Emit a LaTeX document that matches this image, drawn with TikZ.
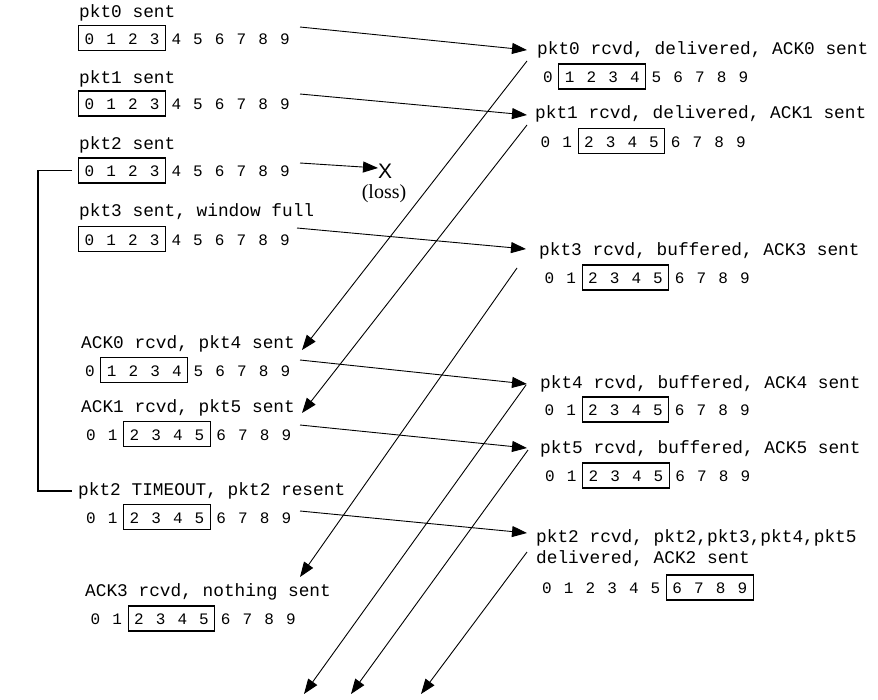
\documentclass[tikz,border=0pt]{standalone}
\usepackage{fontspec}
\setmainfont{Liberation Serif}
\setsansfont{Liberation Sans}
\setmonofont{Liberation Mono}
\usepackage{tikz}
\usetikzlibrary{arrows.meta}

\tikzset{
  lbl/.style={anchor=west, inner sep=0pt, text height=11pt, text depth=4pt,
    font=\ttfamily\fontsize{17.8}{20}\selectfont},
  dig/.style={inner sep=0pt, text height=10pt, text depth=0pt,
    font=\ttfamily\fontsize{16}{18}\selectfont},
  win/.style={draw, line width=1.1pt},
  msg/.style={-{Triangle[length=15pt,width=11pt]}, line width=0.9pt},
}

% \seqrow{name}{x of 0}{y}{first in window}{last in window}
\newcommand{\seqrow}[5]{%
  \foreach \i in {0,...,9}
    \node[dig] (#1-\i) at ({#2+21.7*\i},{#3+1}) {\i};
  \draw[win] ({#2+21.7*(#4-0.5)},{#3-12.5}) rectangle ({#2+21.7*(#5+0.5)},{#3+12.5});
}

\begin{document}
\begin{tikzpicture}[x=1pt, y=-1pt]
  \useasboundingbox (0,0) rectangle (878,699);

  % sender
  \node[lbl] (l0) at (79,14) {pkt0 sent};
  \seqrow{s0}{89.5}{38}{0}{3}
  \node[lbl] (l1) at (79,80) {pkt1 sent};
  \seqrow{s1}{89.5}{103.5}{0}{3}
  \node[lbl] (l2) at (79,146) {pkt2 sent};
  \seqrow{s2}{89.5}{170.5}{0}{3}
  \node[lbl] (l3) at (79,213) {pkt3 sent, window full};
  \seqrow{s3}{89.5}{239}{0}{3}
  \node[lbl] (l4) at (81,345) {ACK0 rcvd, pkt4 sent};
  \seqrow{s4}{90}{370}{1}{4}
  \node[lbl] (l5) at (81,409) {ACK1 rcvd, pkt5 sent};
  \seqrow{s5}{91}{434}{2}{5}
  \node[lbl] (l6) at (78,492) {pkt2 TIMEOUT, pkt2 resent};
  \seqrow{s6}{91}{517}{2}{5}
  \node[lbl] (l7) at (85,593) {ACK3 rcvd, nothing sent};
  \seqrow{s7}{95.5}{618.5}{2}{5}

  % receiver
  \node[lbl] (q0) at (537,51) {pkt0 rcvd, delivered, ACK0 sent};
  \seqrow{r0}{548}{76.5}{1}{4}
  \node[lbl] (q1) at (535,115) {pkt1 rcvd, delivered, ACK1 sent};
  \seqrow{r1}{545.5}{141}{2}{5}
  \node[lbl] (q3) at (539,252) {pkt3 rcvd, buffered, ACK3 sent};
  \seqrow{r3}{549.5}{277.5}{2}{5}
  \node[lbl] (q4) at (540,385) {pkt4 rcvd, buffered, ACK4 sent};
  \seqrow{r4}{549.5}{409.5}{2}{5}
  \node[lbl] (q5) at (540,450) {pkt5 rcvd, buffered, ACK5 sent};
  \seqrow{r5}{550}{475.5}{2}{5}
  \node[lbl] (q2) at (536,539) {pkt2 rcvd, pkt2,pkt3,pkt4,pkt5};
  \node[lbl] (q2b) at (536,560) {delivered, ACK2 sent};
  \seqrow{r2}{547}{587.5}{6}{9}

  % lost packet
  \node[inner sep=0pt, font=\sffamily\fontsize{21}{24}\selectfont] (lost) at (385,171) {X};
  \node[inner sep=0pt, font=\rmfamily\fontsize{20}{22}\selectfont] (loss) at (384,194) {(loss)};

  % packets
  \coordinate (p0s) at (300,27);  \coordinate (p0e) at (527,50);
  \coordinate (p1s) at (300,94);  \coordinate (p1e) at (527,115);
  \coordinate (p2s) at (300,163); \coordinate (p2e) at (378,168);
  \coordinate (p3s) at (297,228); \coordinate (p3e) at (526,249);
  \coordinate (p4s) at (300,360); \coordinate (p4e) at (527,384);
  \coordinate (p5s) at (300,425); \coordinate (p5e) at (527,448);
  \coordinate (p6s) at (300,511); \coordinate (p6e) at (527,533);
  \foreach \k in {0,...,6}
    \draw[msg] (p\k s) -- (p\k e);

  % acks
  \coordinate (a0s) at (527,61);  \coordinate (a0e) at (302,350);
  \coordinate (a1s) at (527,125); \coordinate (a1e) at (302,413);
  \coordinate (a3s) at (517,268); \coordinate (a3e) at (300,577);
  \coordinate (a4s) at (526,385); \coordinate (a4e) at (304,694);
  \coordinate (a5s) at (528,450); \coordinate (a5e) at (351,694);
  \coordinate (a2s) at (527,552); \coordinate (a2e) at (421,694);
  \foreach \k in {0,1,3,4,5,2}
    \draw[msg] (a\k s) -- (a\k e);

  % timeout
  \coordinate (tmo1) at (72,170.5);
  \coordinate (tmo2) at (72,491);
  \draw[line width=1.1pt] (tmo1) -- ++(-34,0) |- (tmo2);
\end{tikzpicture}
\end{document}
